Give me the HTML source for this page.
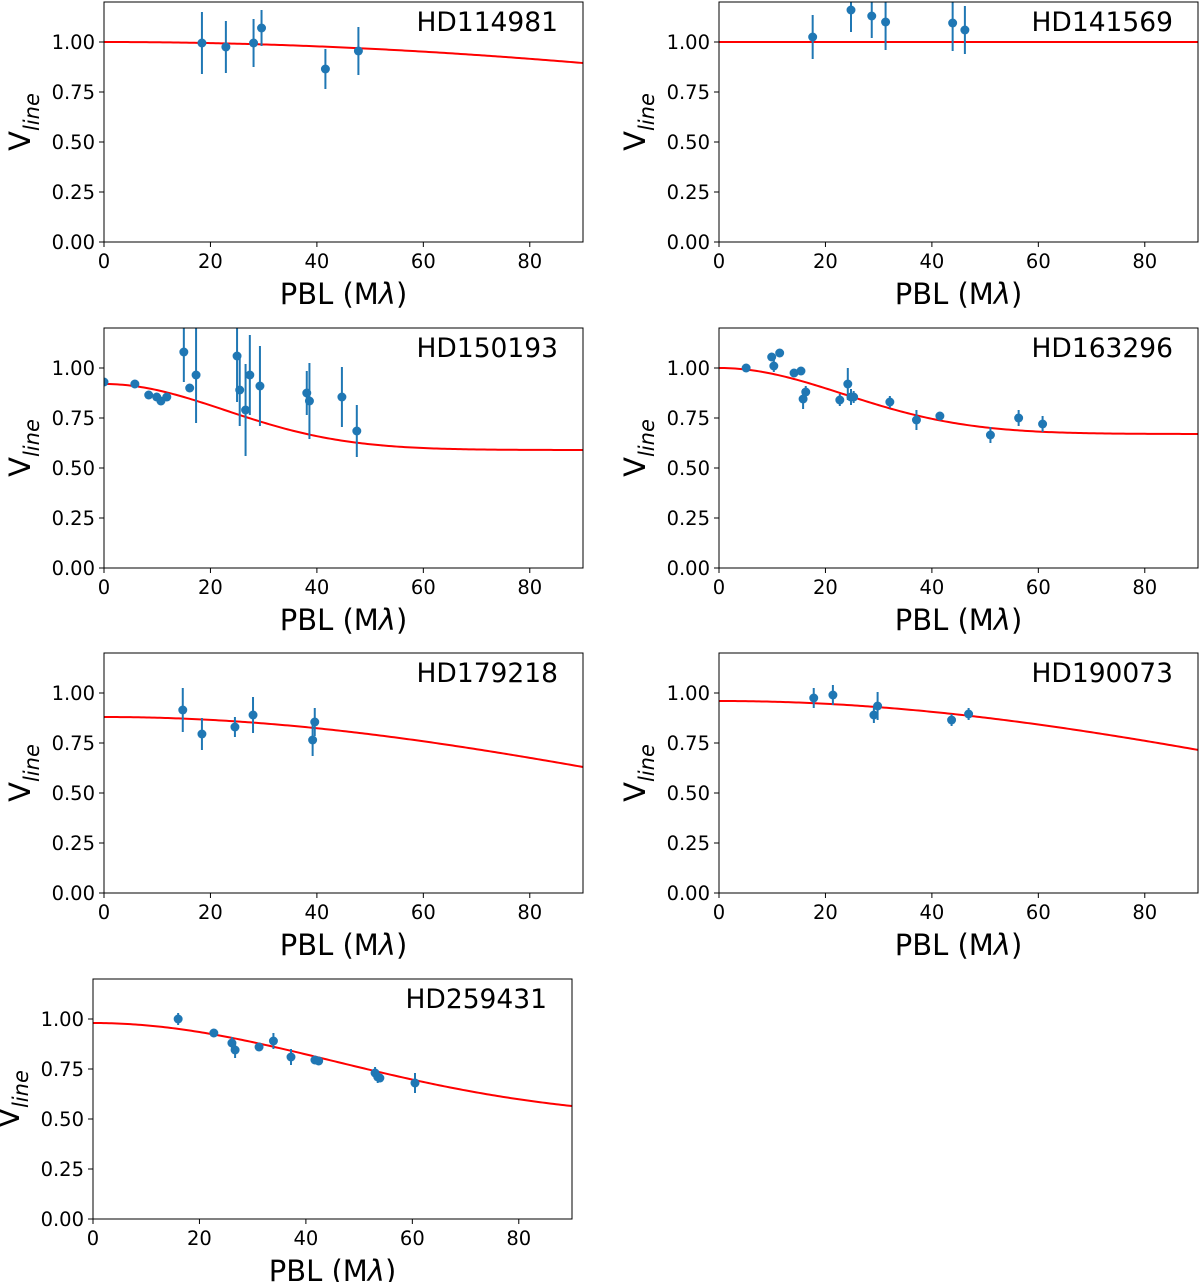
<!DOCTYPE html>
<html><head><meta charset="utf-8"><style>
body{margin:0;background:#fff}
svg{display:block;font-family:"DejaVu Sans","Liberation Sans",sans-serif}
</style></head><body>
<svg id="fig" width="1200" height="1282" viewBox="0 0 1200 1282"></svg>
<script>
const titles=["HD114981","HD141569","HD150193","HD163296","HD179218","HD190073","HD259431"];
const xTicks=[0,20,40,60,80];
const yTicks=[0,0.25,0.5,0.75,1.0];
const yTickLabels=["0.00","0.25","0.50","0.75","1.00"];
// fit model params: base, amp, width  V = base + amp*exp(-(x/w)^2)
const fitBase=[0,1.0,0.59,0.67,0,0,0.5];
const fitAmp=[1.0,0,0.33,0.33,0.88,0.96,0.48];
const fitWidth=[270,100,32,33,155.7,166,63.6];
const px=[[18.4,22.9,28.1,29.6,41.6,47.8],[17.6,24.8,28.7,31.3,43.9,46.2],
[0,5.8,8.4,9.9,10.7,11.8,15.0,16.1,17.3,25,25.5,26.6,27.4,29.3,38.1,38.6,44.7,47.5],
[5.1,9.9,10.3,11.4,14.1,15.4,15.8,16.3,22.7,24.2,24.8,25.3,32.1,37.1,41.5,51.0,56.3,60.8],
[14.8,18.4,24.6,28,39.2,39.6],[17.8,21.4,29.1,29.8,43.7,46.9],
[16,22.7,26.1,26.7,31.2,33.9,37.2,41.7,42.4,53,53.5,53.9,60.5]];
const py=[[0.995,0.975,0.995,1.07,0.865,0.955],[1.025,1.16,1.13,1.10,1.095,1.06],
[0.93,0.92,0.865,0.855,0.835,0.855,1.08,0.90,0.965,1.06,0.89,0.79,0.965,0.91,0.875,0.835,0.855,0.685],
[1.0,1.055,1.01,1.075,0.975,0.985,0.845,0.88,0.84,0.92,0.855,0.855,0.83,0.74,0.76,0.665,0.75,0.72],
[0.915,0.795,0.83,0.89,0.765,0.855],[0.975,0.99,0.89,0.935,0.865,0.895],
[1.0,0.93,0.88,0.845,0.86,0.89,0.81,0.795,0.79,0.73,0.71,0.705,0.68]];
const pe=[[0.155,0.13,0.12,0.09,0.1,0.12],[0.11,0.11,0.11,0.14,0.14,0.12],
[0.01,0.01,0.01,0.01,0.01,0.01,0.15,0.01,0.24,0.23,0.18,0.23,0.2,0.2,0.11,0.19,0.15,0.13],
[0.01,0.02,0.03,0.01,0.01,0.01,0.05,0.03,0.03,0.08,0.04,0.03,0.03,0.05,0.02,0.04,0.04,0.04],
[0.11,0.08,0.05,0.09,0.08,0.07],[0.05,0.05,0.04,0.07,0.03,0.03],
[0.03,0.01,0.03,0.04,0.02,0.04,0.04,0.01,0.01,0.03,0.03,0.01,0.05]];
const axL=[104,719,104,719,104,719,93];
const axT=[2,2,328,328,653,653,979];
const W=479,H=240;
const NS="http://www.w3.org/2000/svg";
const svg=document.getElementById('fig');
function mk(tag,attrs,parent){const e=document.createElementNS(NS,tag);for(const k in attrs)e.setAttribute(k,attrs[k]);(parent||svg).appendChild(e);return e;}
for(let p=0;p<7;p++){
  const L=axL[p],T=axT[p];
  const sx=x=>L+x/90*W, sy=y=>T+H-y/1.2*H;
  const g=mk('g',{});
  
  
  const cp=mk('clipPath',{id:'c'+p},g);mk('rect',{x:L,y:T,width:W,height:H},cp);
  const marks=mk('g',{'clip-path':'url(#c'+p+')'},g);
  let d='';for(let i=0;i<=180;i++){const x=i*0.5;const v=fitBase[p]+fitAmp[p]*Math.exp(-Math.pow(x/fitWidth[p],2));d+=(i?'L':'M')+sx(x).toFixed(2)+','+sy(v).toFixed(2);}
  const fl=mk('path',{d:d,fill:'none',stroke:'#ff0000','stroke-width':2},marks);
  
  
  for(let i=0;i<px[p].length;i++){
    const eb=mk('line',{x1:sx(px[p][i]),x2:sx(px[p][i]),y1:sy(py[p][i]-pe[p][i]),y2:sy(py[p][i]+pe[p][i]),stroke:'#1f77b4','stroke-width':2},marks);
    
    
    const c=mk('circle',{cx:sx(px[p][i]),cy:sy(py[p][i]),r:4.5,fill:'#1f77b4'},marks);
    
    
  }
  const fr=mk('rect',{x:L,y:T,width:W,height:H,fill:'none',stroke:'#000','stroke-width':1},g);
  
  
  xTicks.forEach(t=>{const X=sx(t);mk('line',{x1:X,x2:X,y1:T+H,y2:T+H+5,stroke:'#000'},g);
    const tx=mk('text',{x:X,y:T+H+26,'font-size':19.5,'text-anchor':'middle'},g);tx.textContent=t;
    
    });
  yTicks.forEach((t,i)=>{const Y=sy(t);mk('line',{x1:L-5,x2:L,y1:Y,y2:Y,stroke:'#000'},g);
    const tx=mk('text',{x:L-9,y:Y+7,'font-size':19.5,'text-anchor':'end'},g);tx.textContent=yTickLabels[i];
    
    });
  const xl=mk('text',{x:L+W/2,y:T+H+62,'font-size':29,'text-anchor':'middle'},g);
  xl.textContent='PBL (M';const ts=mk('tspan',{'font-style':'italic'},xl);ts.textContent='λ';
  const ts2=mk('tspan',{},xl);ts2.textContent=')';
  
  
  const yl=mk('text',{transform:'translate('+(L-74)+','+(T+H/2)+') rotate(-90)','font-size':29,'text-anchor':'middle'},g);
  yl.textContent='V';const sub=mk('tspan',{'font-style':'italic','font-size':21,dy:9},yl);sub.textContent='line';
  
  
  const tt=mk('text',{x:L+W-25,y:T+29,'font-size':26.5,'text-anchor':'end'},g);tt.textContent=titles[p];
  
  
}
</script>
</body></html>
